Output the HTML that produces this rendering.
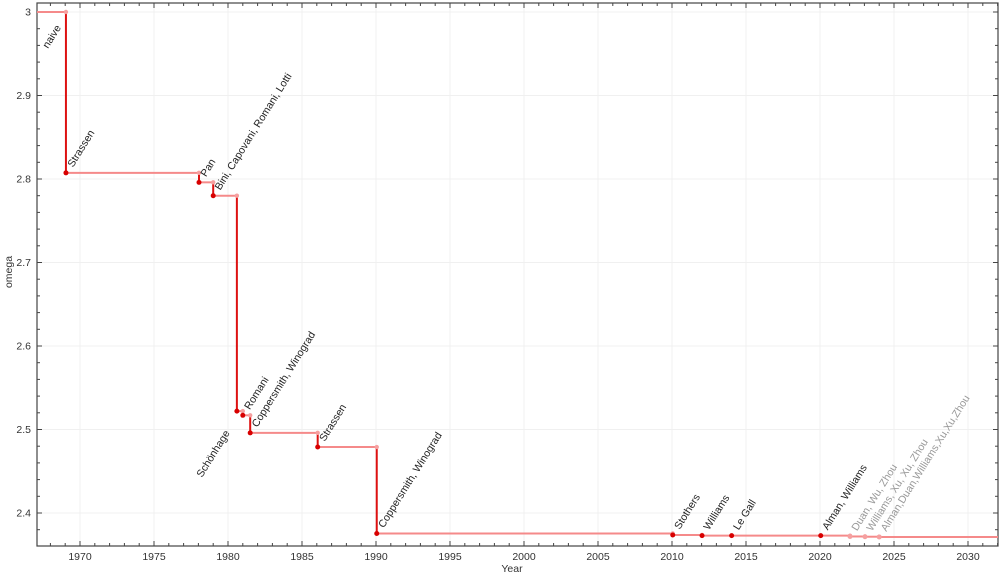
<!DOCTYPE html>
<html><head><meta charset="utf-8"><style>
html,body{margin:0;padding:0;background:#fff;}
svg{display:block;font-family:"Liberation Sans",sans-serif;}
</style></head><body>
<svg id="s" width="1000" height="575" xmlns="http://www.w3.org/2000/svg"></svg>
<script>
const s=document.getElementById('s');
const X=y=>80+(y-1970)*14.8, Y=v=>12+(3-v)*835;
const L=37,R=998,T=3,B=546;
let h='';
for(let y=1970;y<=2030;y+=5)h+=`<line x1="${X(y)}" y1="${T}" x2="${X(y)}" y2="${B}" stroke="#f0f0f0"/>`;
for(let i=0;i<=6;i++){const v=2.4+i*0.1;h+=`<line x1="${L}" y1="${Y(v)}" x2="${R}" y2="${Y(v)}" stroke="#f0f0f0"/>`;}
h+=`<rect x="${L}" y="${T}" width="${R-L}" height="${B-T}" fill="none" stroke="#444" stroke-width="1.2"/>`;
for(let y=1968;y<=2032;y++){const x=X(y);const len=(y%5==0)?5:3;
h+=`<line x1="${x}" y1="${B}" x2="${x}" y2="${B-len}" stroke="#444"/><line x1="${x}" y1="${T}" x2="${x}" y2="${T+len}" stroke="#444"/>`;
if(y%5==0&&y<=2030)h+=`<text x="${x}" y="${B+14}" font-size="10.5" fill="#333" text-anchor="middle">${y}</text>`;}
for(let i=0;i<=32;i++){const v=2.36+i*0.02;const yy=Y(v);if(yy<T||yy>B)continue;const maj=Math.abs((v*10)-Math.round(v*10))<1e-6;const len=maj?5:3;
h+=`<line x1="${L}" y1="${yy}" x2="${L+len}" y2="${yy}" stroke="#444"/><line x1="${R}" y1="${yy}" x2="${R-len}" y2="${yy}" stroke="#444"/>`;
if(maj)h+=`<text x="${L-6}" y="${yy+3.5}" font-size="10.5" fill="#333" text-anchor="end">${(Math.round(v*10)/10).toString()}</text>`;}
h+=`<text x="512" y="572" font-size="10.5" fill="#333" text-anchor="middle">Year</text>`;
h+=`<text transform="translate(12,272) rotate(-90)" font-size="10.5" fill="#333" text-anchor="middle">omega</text>`;
const d=[[1969.05,2.8074,'Strassen'],[1978.04,2.796,'Pan'],[1979.0,2.780,'Bini, Capovani, Romani, Lotti'],[1980.6,2.522,''],[1981.0,2.517,'Romani'],[1981.5,2.496,'Coppersmith, Winograd'],[1986.06,2.479,'Strassen'],[1990.05,2.3755,'Coppersmith, Winograd'],[2010.05,2.3737,'Stothers'],[2012.03,2.3729,'Williams'],[2014.03,2.37286,'Le Gall'],[2020.05,2.37286,'Alman, Williams'],[2022.03,2.3719,'Duan, Wu, Zhou',1],[2023.04,2.3716,'Williams, Xu, Xu, Zhou',1],[2024.0,2.3713,'Alman,Duan,Williams,Xu,Xu,Zhou',1]];
let px=L,pv=3.0;let lines='',dots='',labs='';
for(const p of d){const x=X(p[0]),y=Y(p[1]);
lines+=`<line x1="${px}" y1="${Y(pv)}" x2="${x}" y2="${Y(pv)}" stroke="#f58a8a" stroke-width="2"/>`;
lines+=`<line x1="${x}" y1="${Y(pv)}" x2="${x}" y2="${y}" stroke="${p[3]?'#f58a8a':'#dd1111'}" stroke-width="2"/>`;
dots+=`<circle cx="${x}" cy="${Y(pv)}" r="2.2" fill="#f5a0a0"/>`;
dots+=`<circle cx="${x}" cy="${y}" r="2.5" fill="${p[3]?'#f5a0a0':'#d80000'}"/>`;
if(p[2])labs+=`<text transform="translate(${x+7},${y-5}) rotate(-58)" font-size="10.5" fill="${p[3]?'#999':'#222'}">${p[2]}</text>`;
px=x;pv=p[1];}
lines+=`<line x1="${px}" y1="${Y(pv)}" x2="${R}" y2="${Y(pv)}" stroke="#f58a8a" stroke-width="2"/>`;
labs+=`<text transform="translate(48,49) rotate(-58)" font-size="10.5" fill="#222">naive</text>`;
labs+=`<text transform="translate(202,478) rotate(-58)" font-size="10.5" fill="#222">Schönhage</text>`;
s.innerHTML=h+lines+dots+labs;
</script>
</body></html>
